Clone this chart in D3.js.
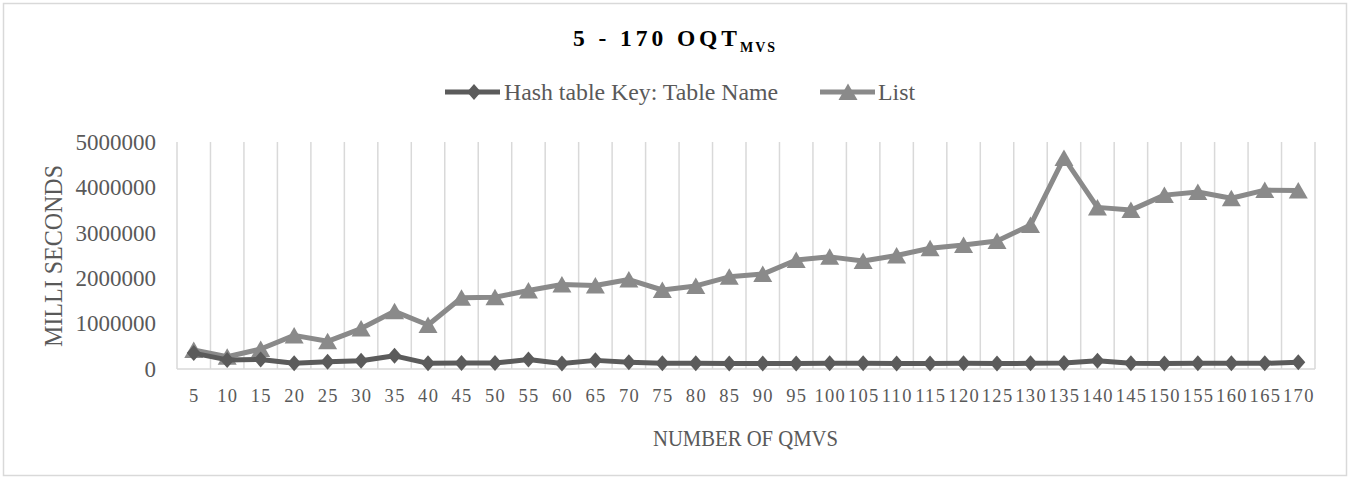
<!DOCTYPE html>
<html><head><meta charset="utf-8">
<script src="https://cdn.jsdelivr.net/npm/d3@7"></script>
<style>body{margin:0;background:#fff}svg{display:block}text{font-family:"Liberation Serif","Times New Roman",serif}</style>
</head><body><svg id="c" width="1351" height="477"></svg>
<script>
const categories = [5,10,15,20,25,30,35,40,45,50,55,60,65,70,75,80,85,90,95,100,105,110,115,120,125,130,135,140,145,150,155,160,165,170];
const hashValues = [350000,200000,210000,125000,160000,180000,290000,125000,130000,130000,210000,120000,190000,150000,125000,125000,120000,120000,120000,125000,125000,120000,120000,125000,120000,125000,130000,180000,125000,120000,125000,125000,125000,150000];
const listValues = [420000,270000,440000,740000,610000,890000,1270000,970000,1570000,1580000,1730000,1860000,1840000,1970000,1740000,1830000,2030000,2090000,2400000,2470000,2380000,2500000,2660000,2730000,2820000,3170000,4650000,3560000,3500000,3830000,3900000,3760000,3940000,3930000];
const yTicks = [0,1000000,2000000,3000000,4000000,5000000];
const seriesNames = ["Hash table Key: Table Name","List"];

const svg = d3.select("#c");
const grid = "#d9d9d9", txt = "#595959";
const cHash = "#5b5b5b", cList = "#8a8a8a";

svg.append("rect").attr("x",3.5).attr("y",3.5).attr("width",1343).attr("height",472)
  .attr("fill","#fff").attr("stroke",grid).attr("stroke-width",1.5);

const x = d3.scaleBand().domain(categories).range([177,1315]).padding(0);
const y = d3.scaleLinear().domain([0,5000000]).range([369,142]);

// vertical gridlines at category boundaries
const bounds = categories.map(c=>x(c)).concat([x.range()[1]]);
svg.append("g").selectAll("line").data(bounds).join("line")
  .attr("x1",d=>d).attr("x2",d=>d).attr("y1",y(5000000)).attr("y2",y(0))
  .attr("stroke",grid).attr("stroke-width",1.5);
svg.append("line").attr("x1",x.range()[0]).attr("x2",x.range()[1]).attr("y1",y(0)).attr("y2",y(0))
  .attr("stroke",grid).attr("stroke-width",1.5);

// y axis labels
const yAxis = d3.axisLeft(y).tickValues(yTicks).tickFormat(d3.format("d")).tickSize(0).tickPadding(0);
const gy = svg.append("g").attr("transform","translate(156,0)").call(yAxis);
gy.select(".domain").remove();
gy.selectAll("text").attr("font-size",23).attr("fill",txt).attr("font-family","Liberation Serif");

// x axis labels
const xAxis = d3.axisBottom(x).tickSize(0).tickPadding(0);
const gx = svg.append("g").attr("transform","translate(0,389)").call(xAxis);
gx.select(".domain").remove();
gx.selectAll("text").attr("font-size",18.5).attr("fill",txt).attr("font-family","Liberation Serif")
  .attr("letter-spacing","1.3px").attr("dx","0.6px");

const cx = d => x(d) + x.bandwidth()/2;
const line = d3.line().x((d,i)=>cx(categories[i])).y(d=>y(d));

function diamond(g,px,py,col){ g.append("path").attr("d",`M${px},${py-8}L${px+7},${py}L${px},${py+8}L${px-7},${py}Z`).attr("fill",col); }
function tri(g,px,py,col){ g.append("path").attr("d",`M${px},${py-8.5}L${px+9.5},${py+8}L${px-9.5},${py+8}Z`).attr("fill",col); }

// List series
svg.append("path").datum(listValues).attr("d",line).attr("fill","none").attr("stroke",cList)
  .attr("stroke-width",5).attr("stroke-linejoin","round");
const gL = svg.append("g");
listValues.forEach((v,i)=>tri(gL,cx(categories[i]),y(v),cList));

// Hash series
svg.append("path").datum(hashValues).attr("d",line).attr("fill","none").attr("stroke",cHash)
  .attr("stroke-width",5).attr("stroke-linejoin","round");
const gH = svg.append("g");
hashValues.forEach((v,i)=>diamond(gH,cx(categories[i]),y(v),cHash));

// title
const t = svg.append("text").attr("y",45.7).attr("font-weight","bold").attr("fill","#000");
t.append("tspan").attr("x",573).attr("font-size",23.5).attr("textLength",164).attr("lengthAdjust","spacing").text("5 - 170 OQT");
t.append("tspan").attr("x",740).attr("y",51.7).attr("font-size",14).attr("textLength",35).attr("lengthAdjust","spacing").text("MVS");

// legend
const lg = svg.append("g");
lg.append("line").attr("x1",445).attr("x2",500).attr("y1",92).attr("y2",92).attr("stroke",cHash).attr("stroke-width",5);
diamond(lg,474,92,cHash);
lg.append("text").attr("x",504).attr("y",100).attr("font-size",23.8).attr("fill",txt).text(seriesNames[0]);
lg.append("line").attr("x1",820).attr("x2",875).attr("y1",92).attr("y2",92).attr("stroke",cList).attr("stroke-width",5);
tri(lg,848,92,cList);
lg.append("text").attr("x",878).attr("y",100).attr("font-size",23.8).attr("fill",txt).text(seriesNames[1]);

// axis titles
svg.append("text").attr("transform","translate(61.5,256) rotate(-90)").attr("text-anchor","middle")
  .attr("font-size",26).attr("fill",txt).attr("textLength",182).attr("lengthAdjust","spacingAndGlyphs").text("MILLI SECONDS");
svg.append("text").attr("x",653).attr("y",446).attr("font-size",23).attr("fill",txt)
  .attr("textLength",185).attr("lengthAdjust","spacingAndGlyphs").text("NUMBER OF QMVS");
</script></body></html>
